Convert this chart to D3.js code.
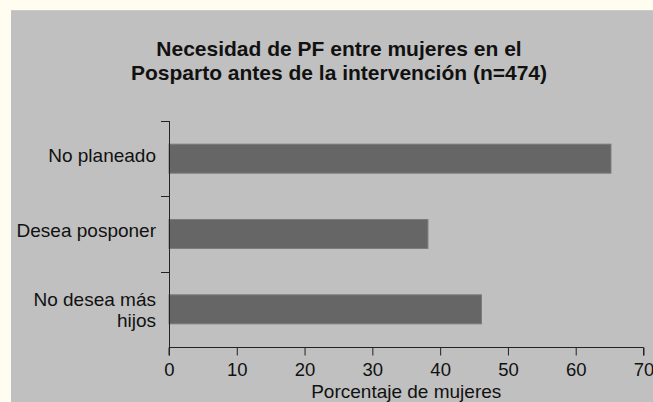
<!DOCTYPE html>
<html>
<head>
	<meta charset="utf-8">
	<script src="https://d3js.org/d3.v7.min.js"></script>
	<style>
		body { margin: 0; background: #fffcf0; }
		text { font-family: "Liberation Sans", Arial, sans-serif; fill: #111; }
	</style>
</head>
<body>
	<script type="text/javascript">

		var categories = ["No planeado", "Desea posponer", "No desea más hijos"];
		var values = [65.2, 38.2, 46.1];
		var xTicks = [0, 10, 20, 30, 40, 50, 60, 70];
		var titleLines = ["Necesidad de PF entre mujeres en el", "Posparto antes de la intervención (n=474)"];
		var xTitle = "Porcentaje de mujeres";

		var w = 653;
		var h = 402;
		var margin = {top: 121, right: 10, bottom: 55, left: 169};

		var svg = d3.select("body")
				.append("svg")
				.attr("width", w)
				.attr("height", h);

		// grey panel
		svg.append("rect")
			.attr("x", 11)
			.attr("y", 10)
			.attr("width", w - 11)
			.attr("height", h - 10)
			.attr("fill", "#c0c0c0");
		svg.append("line")
			.attr("x1", 11).attr("x2", w)
			.attr("y1", 10.5).attr("y2", 10.5)
			.attr("stroke", "#cbcbcb");

		var xScale = d3.scaleLinear()
					.domain([0, 70])
					.range([margin.left, 643.5]);

		var yScale = d3.scaleBand()
					.domain(categories)
					.range([margin.top, h - margin.bottom])
					.paddingInner(0.615)
					.paddingOuter(0.3075);

		svg.selectAll("rect.bar")
			.data(values)
			.enter()
			.append("rect")
			.attr("class", "bar")
			.attr("x", xScale(0))
			.attr("y", function(d, i){ return yScale(categories[i]); })
			.attr("width", function(d){ return xScale(d) - xScale(0); })
			.attr("height", yScale.bandwidth())
			.attr("fill", "#666666")
			.attr("stroke", "#7c7c7c")
			.attr("stroke-width", 1);

		// y axis: line + ticks at band edges
		var yEdges = [margin.top];
		categories.forEach(function(c){ yEdges.push(yScale(c) + yScale.bandwidth() + yScale.step() * 0.3075); });

		var yAxisG = svg.append("g");
		yAxisG.append("line")
			.attr("x1", margin.left + 0.5).attr("x2", margin.left + 0.5)
			.attr("y1", margin.top).attr("y2", h - margin.bottom)
			.attr("stroke", "#222");
		yAxisG.selectAll("line.tick")
			.data(yEdges.slice(0, 3))
			.enter()
			.append("line")
			.attr("class", "tick")
			.attr("x1", margin.left - 8).attr("x2", margin.left)
			.attr("y1", function(d){ return Math.round(d) + 0.5; })
			.attr("y2", function(d){ return Math.round(d) + 0.5; })
			.attr("stroke", "#222");

		var labels = svg.selectAll("text.cat")
			.data(categories)
			.enter()
			.append("text")
			.attr("class", "cat")
			.attr("text-anchor", "end")
			.style("font-size", "19px")
			.attr("y", function(d){ return yScale(d) + yScale.bandwidth() / 2; });

		labels.each(function(d){
			var t = d3.select(this);
			var parts = d == "No desea más hijos" ? ["No desea más", "hijos"] : [d];
			parts.forEach(function(p, j){
				t.append("tspan")
					.attr("x", 156)
					.attr("dy", j == 0 ? (parts.length == 1 ? "0.18em" : "-0.2em") : "1.13em")
					.text(p);
			});
		});

		// x axis
		var xAxis = d3.axisBottom(xScale)
					.tickValues(xTicks)
					.tickSize(8)
					.tickPadding(7);

		var xAxisG = svg.append("g")
			.attr("transform", "translate(0," + (h - margin.bottom + 0.5) + ")")
			.call(xAxis);
		xAxisG.select(".domain")
			.attr("stroke", "#222")
			.attr("d", "M" + xScale(0) + ",8V0H" + xScale(70) + "V8");
		xAxisG.selectAll(".tick line").attr("stroke", "#222");
		xAxisG.selectAll(".tick text")
			.style("font-size", "18.5px")
			.style("font-family", "'Liberation Sans', Arial, sans-serif")
			.attr("fill", "#111");

		svg.append("text")
			.attr("x", (xScale(0) + xScale(70)) / 2)
			.attr("y", 398)
			.attr("text-anchor", "middle")
			.style("font-size", "19px")
			.text(xTitle);

		svg.selectAll("text.title")
			.data(titleLines)
			.enter()
			.append("text")
			.attr("class", "title")
			.attr("x", 339)
			.attr("y", function(d, i){ return 56 + i * 24; })
			.attr("text-anchor", "middle")
			.style("font-size", "21px")
			.style("font-weight", "bold")
			.text(function(d){ return d; });

	</script>
</body>
</html>
